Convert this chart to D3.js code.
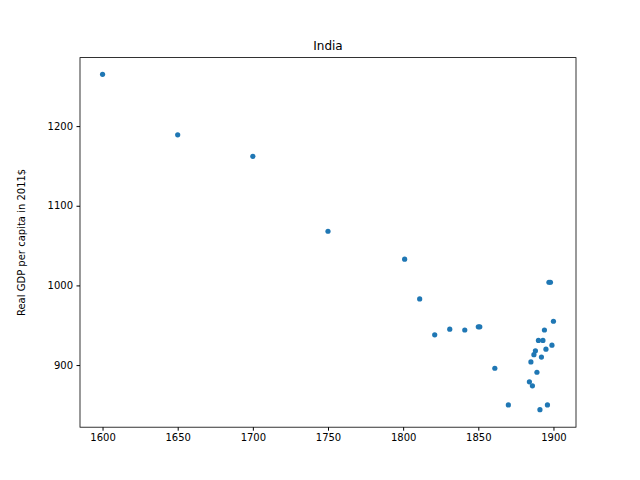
<!DOCTYPE html>
<html><head><meta charset="utf-8">
<script src="https://cdn.jsdelivr.net/npm/d3@7"></script>
<style>body{margin:0;background:#fff}</style>
</head><body>
<script>
var years = [1600,1650,1700,1750,1801,1811,1821,1831,1841,1850,1851,1861,1870,
  1884,1885,1886,1887,1888,1889,1890,1891,1892,1893,1894,1895,1896,1897,1898,1899,1900];
var gdp = [1265,1189,1162,1068,1033,983,938,945,944,948,948,896,850,
  879,904,874,913,918,891,931,844,910,931,944,920,850,1004,1004,925,955];
var xTicks = [1600,1650,1700,1750,1800,1850,1900];
var yTicks = [900,1000,1100,1200];

var W = 640, H = 480, L = 80, R = 576, T = 57.6, B = 427.2;
var svg = d3.select("body").append("svg").attr("width", W).attr("height", H)
  .style("font-family", "DejaVu Sans");
var x = d3.scaleLinear().domain([1585,1915]).range([L,R]);
var y = d3.scaleLinear().domain([822,1286]).range([B,T]);

svg.append("g").attr("transform","translate(0,"+B+")")
  .call(d3.axisBottom(x).tickValues(xTicks).tickFormat(d3.format("d")).tickSizeOuter(0).tickSize(3.5).tickPadding(3.5));
svg.append("g").attr("transform","translate("+L+",0)")
  .call(d3.axisLeft(y).tickValues(yTicks).tickFormat(d3.format("d")).tickSizeOuter(0).tickSize(3.5).tickPadding(3.5));
svg.selectAll(".domain").remove();
svg.selectAll("g").attr("font-family", "DejaVu Sans");
svg.selectAll(".tick text").attr("font-size", 10).attr("fill", "#000");
svg.selectAll(".tick line").attr("stroke", "#000");
svg.append("rect").attr("x",L).attr("y",T).attr("width",R-L).attr("height",B-T)
  .attr("fill","none").attr("stroke","#000").attr("stroke-width",0.8);

svg.selectAll("circle.pt").data(years).enter().append("circle")
  .attr("cx", function(d){ return x(d); })
  .attr("cy", function(d,i){ return y(gdp[i]); })
  .attr("r", 2.6).attr("fill", "#1f77b4");

svg.append("text").attr("x",(L+R)/2).attr("y",T-8).attr("text-anchor","middle")
  .attr("font-size",12).text("India");
svg.append("text").attr("transform","translate(25,"+((T+B)/2)+") rotate(-90)")
  .attr("text-anchor","middle").attr("font-size",10).text("Real GDP per capita in 2011$");
</script>
</body></html>
